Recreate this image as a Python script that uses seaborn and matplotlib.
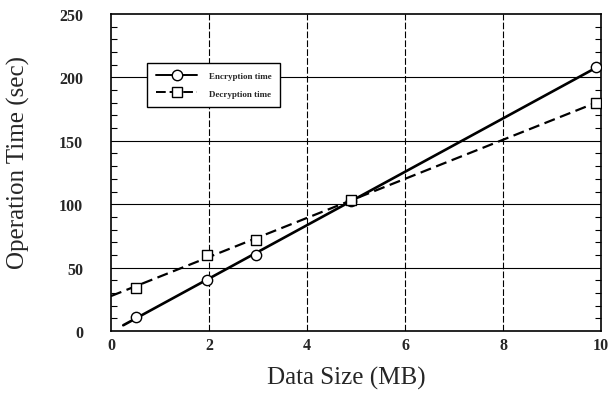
import numpy as np
import pandas as pd
import matplotlib
matplotlib.use("Agg")
import matplotlib.pyplot as plt
from matplotlib.lines import Line2D
from matplotlib.ticker import MultipleLocator
import seaborn as sns

# ---- data ----
data_size = [0.5, 1.95, 2.95, 4.9, 9.9]
encryption_time = [11, 40, 60, 102.5, 208]
decryption_time = [34, 60, 72, 103, 180]
x_ticks = [0, 2, 4, 6, 8, 10]
y_ticks = [0, 50, 100, 150, 200, 250]
series_names = ["Encryption time", "Decryption time"]

sns.set_style("white")
plt.rcParams["font.family"] = ["Liberation Serif", "DejaVu Serif"]

fig = plt.figure(figsize=(6.09, 4.02), dpi=100)
ax = fig.add_axes([111 / 609, 1 - 332 / 402, 490 / 609, 317 / 402])

df = pd.DataFrame({"size": data_size, "enc": encryption_time, "dec": decryption_time})

# linear fits drawn as lines
enc_fit = np.polyfit(df["size"], df["enc"], 1)
dec_fit = np.polyfit(df["size"], df["dec"], 1)
xe = np.linspace(0.25, max(data_size), 50)
xd = np.linspace(0.0, max(data_size), 50)
sns.lineplot(x=xe, y=np.polyval(enc_fit, xe), ax=ax, color="black", lw=1.9, zorder=3)
sns.lineplot(x=xd, y=np.polyval(dec_fit, xd), ax=ax, color="black", lw=1.6,
             linestyle=(0, (5, 2.5)), zorder=3)

sns.scatterplot(data=df, x="size", y="enc", ax=ax, marker="o", s=55,
                facecolor="white", edgecolor="black", linewidth=1.0, zorder=4)
sns.scatterplot(data=df, x="size", y="dec", ax=ax, marker="s", s=50,
                facecolor="white", edgecolor="black", linewidth=1.0, zorder=4)

ax.set_xlim(0, 10)
ax.set_ylim(0, 250)
ax.set_xticks(x_ticks)
ax.set_yticks(y_ticks)
ax.yaxis.set_minor_locator(MultipleLocator(10))
ax.tick_params(axis="both", which="major", length=0, labelsize=11.5)
ax.tick_params(axis="y", which="major", pad=20)
ax.tick_params(axis="x", which="major", pad=4)
ax.tick_params(axis="y", which="minor", direction="in", length=4, width=0.8,
               left=True, right=True, color="black")
for lab in ax.get_xticklabels() + ax.get_yticklabels():
    lab.set_fontweight("bold")

# grid
for yv in y_ticks[1:-1]:
    ax.axhline(yv, color="black", lw=0.8, zorder=1)
for xv in x_ticks[1:-1]:
    ax.axvline(xv, color="black", lw=0.8, linestyle=(0, (6, 2)), zorder=1)

for s in ax.spines.values():
    s.set_color("black")
    s.set_linewidth(1.2)
    s.set_visible(True)

ax.set_xlabel("Data Size (MB)", fontsize=18)
ax.set_ylabel("Operation Time (sec)", fontsize=18)
ax.xaxis.set_label_coords(0.48, -0.11)
ax.yaxis.set_label_coords(-0.165, 0.535)

handles = [
    Line2D([], [], color="black", lw=1.4, marker="o", markersize=7.5,
           markerfacecolor="white", markeredgecolor="black"),
    Line2D([], [], color="black", lw=1.4, linestyle=(0, (5, 2)), marker="s", markersize=7,
           markerfacecolor="white", markeredgecolor="black"),
]
leg = ax.legend(handles, series_names, loc="upper left", bbox_to_anchor=(0.065, 0.86),
                handlelength=4.5, numpoints=1, frameon=True, fancybox=False,
                edgecolor="black", framealpha=1, borderpad=1.0, labelspacing=1.0,
                handletextpad=1.3, prop={"weight": "bold", "size": 6.5})
leg.get_frame().set_linewidth(1.0)

fig.savefig("out.png", dpi=100)
